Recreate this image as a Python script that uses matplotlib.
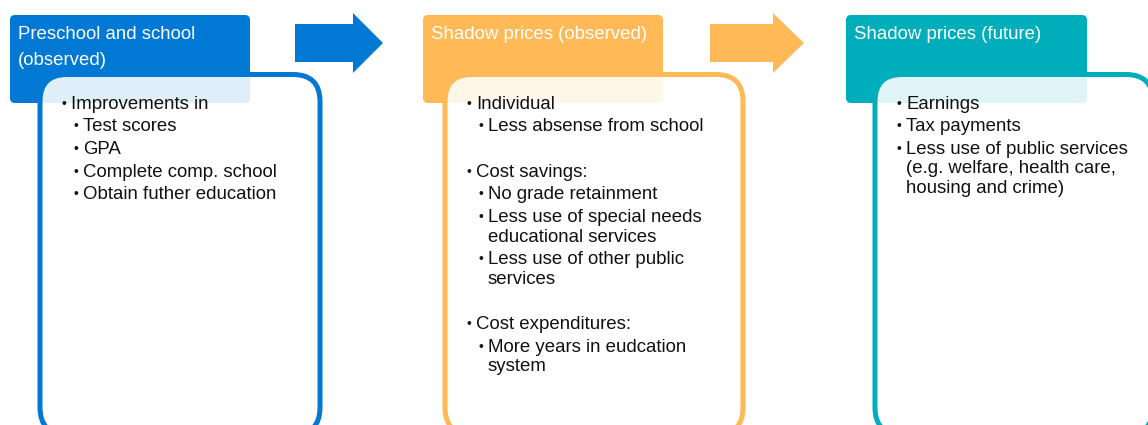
import matplotlib
matplotlib.use('Agg')
import matplotlib.pyplot as plt
from matplotlib.patches import FancyBboxPatch, Polygon

plt.rcParams['font.family'] = ['Liberation Sans', 'DejaVu Sans']

# panel content
titles = [
    ["Preschool and school", "(observed)"],
    ["Shadow prices (observed)"],
    ["Shadow prices (future)"],
]
colors = ['#0078D4', '#FFB957', '#00ADBA']

# ('b' = bullet, 's' = sub bullet, 'bc'/'sc' = wrapped line, '' = blank)
items_school = [
    ('b', "Improvements in"),
    ('s', "Test scores"),
    ('s', "GPA"),
    ('s', "Complete comp. school"),
    ('s', "Obtain futher education"),
]
items_observed = [
    ('b', "Individual"),
    ('s', "Less absense from school"),
    ('', ""),
    ('b', "Cost savings:"),
    ('s', "No grade retainment"),
    ('s', "Less use of special needs"),
    ('sc', "educational services"),
    ('s', "Less use of other public"),
    ('sc', "services"),
    ('', ""),
    ('b', "Cost expenditures:"),
    ('s', "More years in eudcation"),
    ('sc', "system"),
]
items_future = [
    ('b', "Earnings"),
    ('b', "Tax payments"),
    ('b', "Less use of public services"),
    ('bc', "(e.g. welfare, health care,"),
    ('bc', "housing and crime)"),
]
items = [items_school, items_observed, items_future]

# layout in pixels
W, H = 1148, 425
headers = [(10, 250), (423, 663), (846, 1087)]
bodies = [(40, 320), (445, 743), (875, 1153)]
arrows = [(295, 353, 383), (710, 773, 804)]
fs = 13.4

fig = plt.figure(figsize=(W / 100, H / 100), dpi=100)
ax = fig.add_axes([0, 0, 1, 1])
ax.set_xlim(0, W)
ax.set_ylim(H, 0)
ax.axis('off')

for i in range(3):
    c = colors[i]
    hx0, hx1 = headers[i]
    ax.add_patch(FancyBboxPatch((hx0, 15), hx1 - hx0, 88,
                                boxstyle='round,pad=0,rounding_size=5',
                                fc=c, ec='none', zorder=1))
    bx0, bx1 = bodies[i]
    ax.add_patch(FancyBboxPatch((bx0, 74.5), bx1 - bx0, 360,
                                boxstyle='round,pad=0,rounding_size=27',
                                fc=(1, 1, 1, 0.88), ec=c, lw=3.6, zorder=2))

    for k, line in enumerate(titles[i]):
        ax.text(hx0 + 8, 32 + 26 * k, line, color='white', fontsize=fs,
                ha='left', va='center_baseline', zorder=3)

    y = 102
    first = True
    for kind, txt in items[i]:
        if not first:
            y += 19.5 if kind in ('bc', 'sc') else 22.7
        first = False
        if kind == '':
            continue
        xt = bx0 + 31
        if kind in ('s', 'sc'):
            xt = bx0 + 43
        if kind in ('b', 's'):
            ax.text(xt - 9.5, y, "\u2022", fontsize=fs * 0.75, color='#111111',
                    ha='left', va='center_baseline', zorder=3)
        ax.text(xt, y, txt, fontsize=fs, color='#111111',
                ha='left', va='center_baseline', zorder=3)

for j, (x0, xh, xa) in enumerate(arrows):
    pts = [(x0, 24), (xh, 24), (xh, 13), (xa, 43), (xh, 73), (xh, 62), (x0, 62)]
    ax.add_patch(Polygon(pts, closed=True, fc=colors[j], ec='none', zorder=1))

fig.savefig('out.png', dpi=100)
